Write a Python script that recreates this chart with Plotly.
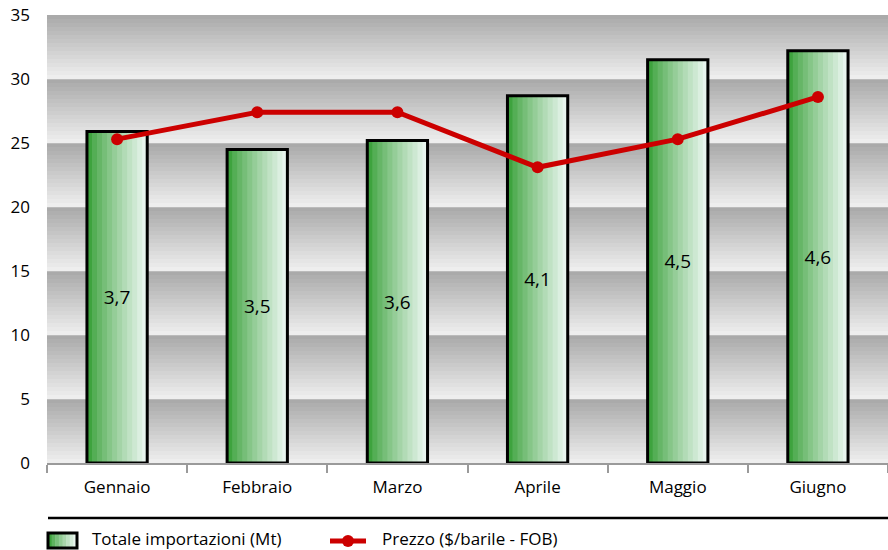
import plotly.graph_objects as go

# Monthly data
months = ["Gennaio", "Febbraio", "Marzo", "Aprile", "Maggio", "Giugno"]
imports_mt = [3.7, 3.5, 3.6, 4.1, 4.5, 4.6]          # Totale importazioni (Mt)
price_fob = [25.3, 27.4, 27.4, 23.1, 25.3, 28.6]     # Prezzo ($/barile - FOB)
price_ticks = [0, 5, 10, 15, 20, 25, 30, 35]

FONT = "Open Sans"
W, H = 888, 550
ML, MR, MT, MB = 47, 0, 15, 87
PW, PH = W - ML - MR, H - MT - MB


def lerp(c1, c2, t):
    return "rgb(%d,%d,%d)" % tuple(round(a + (b - a) * t) for a, b in zip(c1, c2))


GREEN_DARK = (62, 163, 62)
GREEN_LIGHT = (232, 245, 238)
GRAY_DARK = (170, 170, 170)
GRAY_LIGHT = (238, 238, 238)


def green(t):
    return lerp(GREEN_DARK, GREEN_LIGHT, t ** 0.85)


fig = go.Figure()

# Bars with a horizontal green gradient built from narrow strips
bar_w = 0.43
n_strips = 12
sw = bar_w / n_strips
for i in range(n_strips):
    last = i == n_strips - 1
    fig.add_trace(go.Bar(
        x=months, y=imports_mt, yaxis="y",
        width=sw if last else sw * 1.6, offset=-bar_w / 2 + i * sw,
        marker=dict(color=green(i / (n_strips - 1)), line=dict(width=0)),
        showlegend=False, hoverinfo="skip",
    ))

# Outline + value labels
fig.add_trace(go.Bar(
    x=months, y=imports_mt, yaxis="y", name="Totale importazioni (Mt)",
    width=bar_w, offset=-bar_w / 2,
    marker=dict(color="rgba(0,0,0,0)", line=dict(color="black", width=3)),
    texttemplate="%{y:.1f}", textposition="inside", insidetextanchor="middle",
    textangle=0, constraintext="none",
    textfont=dict(family=FONT, size=19, color="black"),
    showlegend=False,
))

# Price line
fig.add_trace(go.Scatter(
    x=months, y=price_fob, yaxis="y2", name="Prezzo ($/barile - FOB)",
    mode="lines+markers",
    line=dict(color="#cc0000", width=5),
    marker=dict(color="#cc0000", size=12),
    showlegend=False,
))

shapes = []
# Banded background: each 5-unit band fades from dark gray (top) to light gray (bottom)
steps = 16
for lo, hi in zip(price_ticks[:-1], price_ticks[1:]):
    h = (hi - lo) / steps
    for s in range(steps):
        y1 = hi - s * h
        shapes.append(dict(
            type="rect", xref="paper", yref="y2", x0=0, x1=1, y0=y1 - h * 1.05, y1=y1,
            fillcolor=lerp(GRAY_DARK, GRAY_LIGHT, s / (steps - 1)), line=dict(width=0),
            layer="below",
        ))


def px_x(px):
    return (px - ML) / PW


def px_y(py):
    return (H - MB - py) / PH


# Separator line above the legend
shapes.append(dict(type="line", xref="paper", yref="paper",
                   x0=px_x(48), x1=1, y0=px_y(518), y1=px_y(518),
                   line=dict(color="black", width=2.5)))

# Legend icon: gradient box
bx0, bx1, by0, by1 = 48, 77, 533, 548
n_icon = 8
for i in range(n_icon):
    shapes.append(dict(type="rect", xref="paper", yref="paper",
                       x0=px_x(bx0 + (bx1 - bx0) * i / n_icon),
                       x1=px_x(bx0 + (bx1 - bx0) * (i + 1) / n_icon + 0.5),
                       y0=px_y(by1), y1=px_y(by0),
                       fillcolor=green(i / (n_icon - 1)),
                       line=dict(width=0)))
shapes.append(dict(type="rect", xref="paper", yref="paper",
                   x0=px_x(bx0), x1=px_x(bx1), y0=px_y(by1), y1=px_y(by0),
                   line=dict(color="black", width=3)))
# Legend icon: red line with marker
shapes.append(dict(type="line", xref="paper", yref="paper",
                   x0=px_x(330), x1=px_x(366), y0=px_y(541), y1=px_y(541),
                   line=dict(color="#cc0000", width=5)))
shapes.append(dict(type="circle", xref="paper", yref="paper",
                   x0=px_x(342), x1=px_x(354), y0=px_y(547), y1=px_y(535),
                   fillcolor="#cc0000", line=dict(width=0)))

annotations = [
    dict(text="Totale importazioni (Mt)", xref="paper", yref="paper",
         x=px_x(91), y=px_y(538), xanchor="left", yanchor="middle", showarrow=False,
         borderpad=0, font=dict(family=FONT, size=17, color="black")),
    dict(text="Prezzo ($/barile - FOB)", xref="paper", yref="paper",
         x=px_x(381), y=px_y(538), xanchor="left", yanchor="middle", showarrow=False,
         borderpad=0, font=dict(family=FONT, size=17, color="black")),
]

fig.update_layout(
    width=W, height=H,
    margin=dict(l=ML, r=MR, t=MT, b=MB),
    paper_bgcolor="white", plot_bgcolor="white",
    separators=",.",
    barmode="overlay",
    font=dict(family=FONT, size=17, color="black"),
    xaxis=dict(
        type="category", range=[-0.5, 5.5],
        showline=True, linecolor="#9a9a9a", linewidth=2,
        ticks="outside", tickson="boundaries", ticklen=8, tickwidth=2, tickcolor="#9a9a9a",
        ticklabelstandoff=8,
        showgrid=False, tickfont=dict(family=FONT, size=17),
    ),
    yaxis=dict(range=[0, 5], visible=False, showgrid=False, zeroline=False),
    yaxis2=dict(
        overlaying="y", side="left", range=[0, 35],
        tickvals=price_ticks, showgrid=False, zeroline=False, showline=False,
        ticks="", ticklabelstandoff=16, tickfont=dict(family=FONT, size=17),
    ),
    shapes=shapes,
    annotations=annotations,
    showlegend=False,
)

fig.write_html("out.html")
